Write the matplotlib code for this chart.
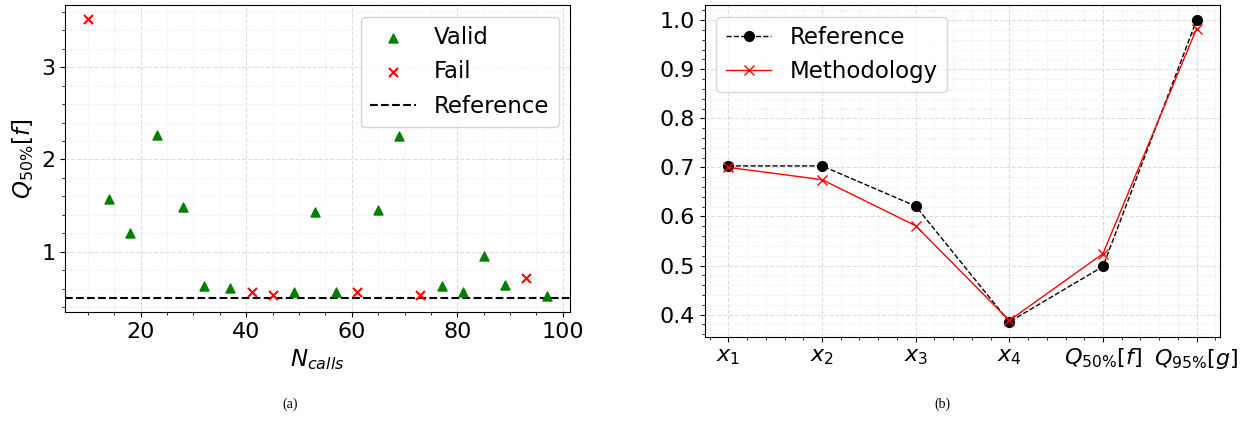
import matplotlib
matplotlib.use("Agg")
import matplotlib.pyplot as plt
import numpy as np

# Panel (a) data
valid_x = [14, 18, 23, 28, 32, 37, 49, 53, 57, 65, 69, 77, 81, 85, 89, 97]
valid_y = [1.57, 1.20, 2.26, 1.48, 0.63, 0.61, 0.56, 1.43, 0.57, 1.45, 2.25, 0.63, 0.57, 0.96, 0.64, 0.52]
fail_x = [10, 41, 45, 61, 73, 93]
fail_y = [3.52, 0.56, 0.53, 0.56, 0.53, 0.72]
reference_value = 0.5

# Panel (b) data
categories = [r"$x_1$", r"$x_2$", r"$x_3$", r"$x_4$", r"$Q_{50\%}[f]$", r"$Q_{95\%}[g]$"]
reference_b = [0.703, 0.703, 0.621, 0.385, 0.498, 1.0]
methodology_b = [0.700, 0.675, 0.581, 0.388, 0.524, 0.983]

FS = 16
LFS = 16.5
fig = plt.figure(figsize=(12.5, 4.25), dpi=100)

ax1 = fig.add_axes([0.052, 0.266, 0.404, 0.722])
ax1.scatter(valid_x, valid_y, marker="^", color="green", s=42, label="Valid", zorder=3)
ax1.scatter(fail_x, fail_y, marker="x", color="red", s=42, label="Fail", zorder=3)
ax1.axhline(reference_value, color="black", linestyle="--", linewidth=1.5, label="Reference")
ax1.margins(x=0.05, y=0.05)
ax1.minorticks_on()
ax1.grid(which="major", linestyle="--", color="#dddddd", linewidth=0.8)
ax1.grid(which="minor", linestyle=":", color="#e6e6e6", linewidth=0.6)
ax1.set_axisbelow(True)
ax1.set_xlabel(r"$N_{calls}$", fontsize=LFS)
ax1.set_ylabel(r"$Q_{50\%}[f]$", fontsize=LFS)
ax1.tick_params(labelsize=FS)
ax1.legend(fontsize=LFS, loc="upper right")
ax1.set_yticks([1, 2, 3])

ax2 = fig.add_axes([0.564, 0.207, 0.412, 0.781])
xpos = np.arange(len(categories))
ax2.plot(xpos, reference_b, "k--o", linewidth=1, markersize=7, label="Reference")
ax2.plot(xpos, methodology_b, "r-x", linewidth=1, markersize=7, label="Methodology")
ax2.minorticks_on()
ax2.set_xticks(xpos)
ax2.set_xticklabels(categories)
ax2.grid(which="major", linestyle="--", color="#dddddd", linewidth=0.8)
ax2.grid(which="minor", linestyle=":", color="#e6e6e6", linewidth=0.6)
ax2.set_axisbelow(True)
ax2.tick_params(labelsize=FS)
ax2.legend(fontsize=LFS, loc="upper left")

fig.text(0.232, 0.04, "(a)", family="Liberation Serif", fontsize=10, ha="center")
fig.text(0.754, 0.04, "(b)", family="Liberation Serif", fontsize=10, ha="center")

fig.savefig("out.png", dpi=100)
